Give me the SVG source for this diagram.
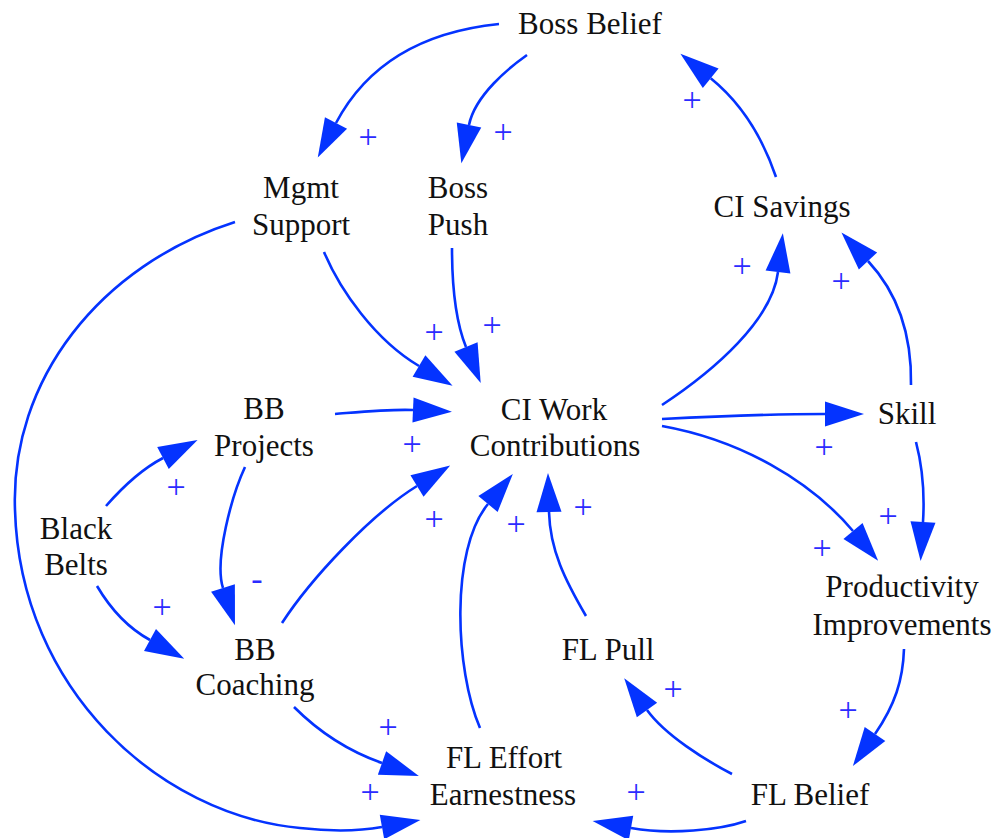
<svg xmlns="http://www.w3.org/2000/svg" width="998" height="838" viewBox="0 0 998 838">
  <style>
    .node text { font-family: "Liberation Serif", "Times New Roman", serif; font-size: 31px; fill: #111; text-anchor: middle; }
    .link { fill: none; stroke: #0433ff; stroke-width: 2.6; marker-end: url(#arrow); }
    .pol { font-family: "Liberation Serif", "Times New Roman", serif; font-size: 34px; fill: #2b2bff; text-anchor: middle; }
  </style>
  <defs>
    <marker id="arrow" markerUnits="userSpaceOnUse" markerWidth="40" markerHeight="26" viewBox="0 -13 40 26" refX="0" refY="0" orient="auto" overflow="visible">
      <path d="M0,-12.5 L39,0 L0,12.5 z" fill="#0433ff"/>
    </marker>
  </defs>

  <rect width="998" height="838" fill="#fff"/>

  <!-- causal links -->
  <g id="connectors">
    <path class="link" d="M499,24 Q382,36 336,123"/>
    <path class="link" d="M527,55 C510,67 475,95 469,125"/>
    <path class="link" d="M776,177 C760,130 735,98 710.7,78.3"/>
    <path class="link" d="M662,405 C715,370 772,320 778,272"/>
    <path class="link" d="M911,385 C912,330 895,290 868,261"/>
    <path class="link" d="M324,252 C340,290 375,340 419,366"/>
    <path class="link" d="M452,248 C452,285 455,320 466,347"/>
    <path class="link" d="M335,414 C360,412 390,409 413,410"/>
    <path class="link" d="M282,623 C310,580 370,515 417,486"/>
    <path class="link" d="M480,728 C455,670 450,550 488,504"/>
    <path class="link" d="M586,616 C565,580 550,550 549,512"/>
    <path class="link" d="M662,419 C720,416 780,414 825,414"/>
    <path class="link" d="M662,426 C740,440 810,480 853,531"/>
    <path class="link" d="M916,442 C922,465 925,490 923,522"/>
    <path class="link" d="M904,649 C903,680 895,705 875,734"/>
    <path class="link" d="M732,774 C705,760 665,735 647,710"/>
    <path class="link" d="M746,821 C720,830 670,835 631,828"/>
    <path class="link" d="M235,222 C100,265 10,380 15,510 C20,690 160,815 300,828 C335,832 360,831 382,827"/>
    <path class="link" d="M106,506 C120,490 140,470 163,458"/>
    <path class="link" d="M97,586 C110,608 128,628 150,640"/>
    <path class="link" d="M245,467 C232,495 214,560 223,588"/>
    <path class="link" d="M294,707 C315,728 345,750 382,763"/>
  </g>

  <!-- link polarities -->
  <g id="polarities">
    <text class="pol" x="368" y="148">+</text>
    <text class="pol" x="503" y="143">+</text>
    <text class="pol" x="692" y="111">+</text>
    <text class="pol" x="742" y="277">+</text>
    <text class="pol" x="841" y="292">+</text>
    <text class="pol" x="434" y="343">+</text>
    <text class="pol" x="492" y="336">+</text>
    <text class="pol" x="412" y="455">+</text>
    <text class="pol" x="434" y="530">+</text>
    <text class="pol" x="516" y="535">+</text>
    <text class="pol" x="583" y="518">+</text>
    <text class="pol" x="824" y="458">+</text>
    <text class="pol" x="822" y="559">+</text>
    <text class="pol" x="888" y="527">+</text>
    <text class="pol" x="848" y="721">+</text>
    <text class="pol" x="673" y="700">+</text>
    <text class="pol" x="636" y="803">+</text>
    <text class="pol" x="370" y="803">+</text>
    <text class="pol" x="176" y="498">+</text>
    <text class="pol" x="162" y="618">+</text>
    <text class="pol" x="257" y="590">-</text>
    <text class="pol" x="388" y="738">+</text>
  </g>

  <g id="boss-belief" class="node"><text x="590" y="34">Boss Belief</text></g>
  <g id="mgmt-support" class="node"><text x="301" y="198">Mgmt</text><text x="301" y="235">Support</text></g>
  <g id="boss-push" class="node"><text x="458" y="198">Boss</text><text x="458" y="235">Push</text></g>
  <g id="ci-savings" class="node"><text x="782" y="217">CI Savings</text></g>
  <g id="ci-work-contributions" class="node"><text x="554" y="420">CI Work</text><text x="555" y="456">Contributions</text></g>
  <g id="skill" class="node"><text x="907" y="424">Skill</text></g>
  <g id="bb-projects" class="node"><text x="264" y="419">BB</text><text x="264" y="456">Projects</text></g>
  <g id="black-belts" class="node"><text x="76" y="539">Black</text><text x="76" y="575">Belts</text></g>
  <g id="bb-coaching" class="node"><text x="255" y="660">BB</text><text x="255" y="695">Coaching</text></g>
  <g id="productivity-improvements" class="node"><text x="902" y="597">Productivity</text><text x="902" y="635">Improvements</text></g>
  <g id="fl-pull" class="node"><text x="608" y="660">FL Pull</text></g>
  <g id="fl-effort-earnestness" class="node"><text x="504" y="768">FL Effort</text><text x="503" y="805">Earnestness</text></g>
  <g id="fl-belief" class="node"><text x="810" y="805">FL Belief</text></g>
</svg>
